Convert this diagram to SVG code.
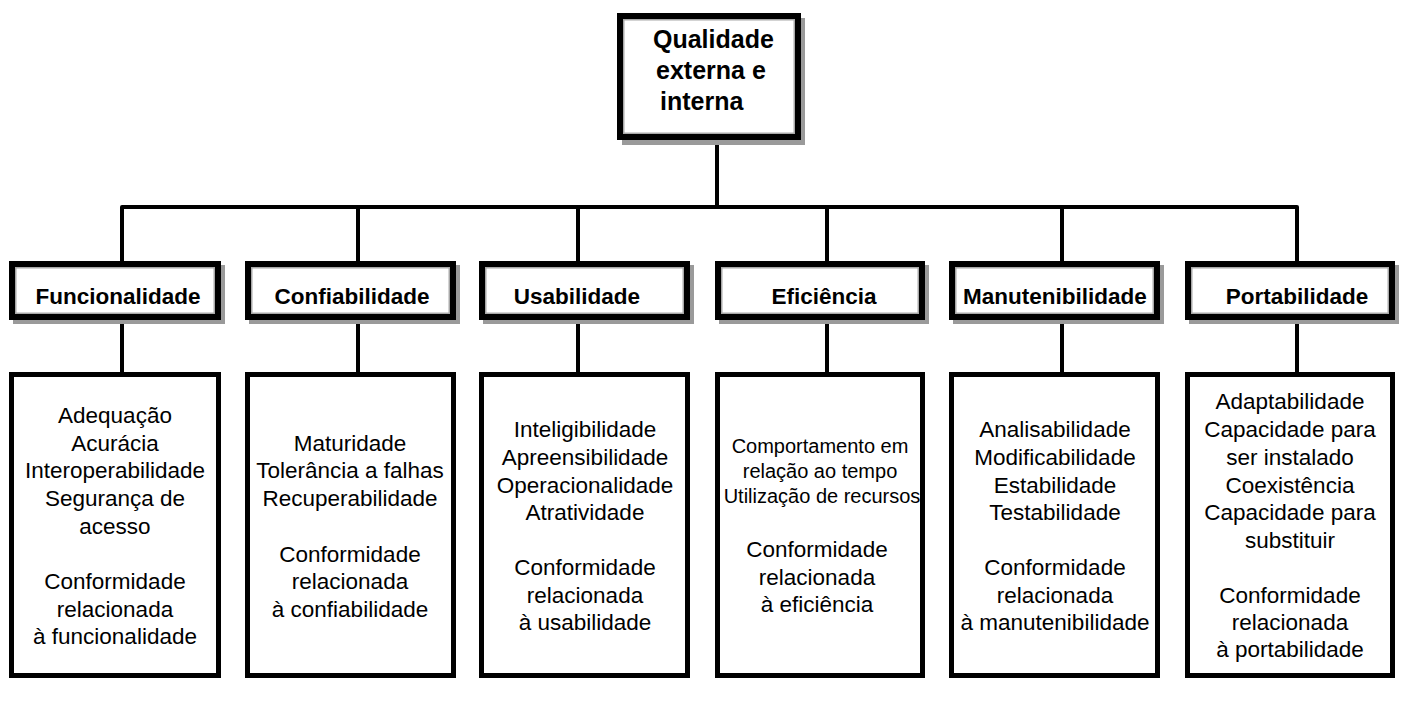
<svg xmlns="http://www.w3.org/2000/svg" width="1424" height="706" viewBox="0 0 1424 706">
<style>
.shadow{fill:#9a9a9a}
.hbox{fill:#fff;stroke:#000;stroke-width:6}
.inner{fill:none;stroke:#a8a8a8;stroke-width:1.5}
.dbox{fill:#fff;stroke:#000;stroke-width:5}
.conn{fill:none;stroke:#000;stroke-width:4;stroke-linejoin:round}
.root{font-family:"Liberation Sans",Arial,sans-serif;font-weight:bold;font-size:25px;fill:#000}
.hl{font-family:"Liberation Sans",Arial,sans-serif;font-weight:bold;font-size:22.5px;fill:#000;text-anchor:middle}
.dt{font-family:"Liberation Sans",Arial,sans-serif;font-size:22.5px;fill:#000;text-anchor:middle}
.ds{font-family:"Liberation Sans",Arial,sans-serif;font-size:20px;fill:#000;text-anchor:middle}
</style>
<rect width="1424" height="706" fill="#fff"/>
<g id="connectors">
<path class="conn" d="M717 138 V207"/>
<path class="conn" d="M122 262 V207 H1297 V262"/>
<path class="conn" d="M358 207 V262"/>
<path class="conn" d="M578 207 V262"/>
<path class="conn" d="M827 207 V262"/>
<path class="conn" d="M1062 207 V262"/>
<path class="conn" d="M122 319 V373"/>
<path class="conn" d="M358 319 V373"/>
<path class="conn" d="M578 319 V373"/>
<path class="conn" d="M827 319 V373"/>
<path class="conn" d="M1062 319 V373"/>
<path class="conn" d="M1297 319 V373"/>
</g>
<g id="root">
<rect class="shadow" x="622" y="18" width="183" height="127"/>
<rect class="hbox" x="620" y="16" width="178" height="121"/>
<rect class="inner" x="623.75" y="19.75" width="170.5" height="113.5"/>
<text class="root" x="653" y="48">Qualidade</text>
<text class="root" x="656" y="79">externa e</text>
<text class="root" x="660" y="110">interna</text>
</g>
<g id="h-funcionalidade">
<rect class="shadow" x="13" y="265" width="212" height="59"/>
<rect class="hbox" x="12" y="264" width="206" height="53"/>
<rect class="inner" x="15.75" y="267.75" width="198.5" height="45.5"/>
<text class="hl" x="118" y="304">Funcionalidade</text>
</g>
<g id="h-confiabilidade">
<rect class="shadow" x="249" y="265" width="211" height="59"/>
<rect class="hbox" x="248" y="264" width="205" height="53"/>
<rect class="inner" x="251.75" y="267.75" width="197.5" height="45.5"/>
<text class="hl" x="352" y="304">Confiabilidade</text>
</g>
<g id="h-usabilidade">
<rect class="shadow" x="483" y="265" width="211" height="59"/>
<rect class="hbox" x="482" y="264" width="205" height="53"/>
<rect class="inner" x="485.75" y="267.75" width="197.5" height="45.5"/>
<text class="hl" x="577" y="304">Usabilidade</text>
</g>
<g id="h-eficiencia">
<rect class="shadow" x="719" y="265" width="210" height="59"/>
<rect class="hbox" x="718" y="264" width="204" height="53"/>
<rect class="inner" x="721.75" y="267.75" width="196.5" height="45.5"/>
<text class="hl" x="824" y="304">Eficiência</text>
</g>
<g id="h-manutenibilidade">
<rect class="shadow" x="953" y="265" width="211" height="59"/>
<rect class="hbox" x="952" y="264" width="205" height="53"/>
<rect class="inner" x="955.75" y="267.75" width="197.5" height="45.5"/>
<text class="hl" x="1055" y="304">Manutenibilidade</text>
</g>
<g id="h-portabilidade">
<rect class="shadow" x="1189" y="265" width="210" height="59"/>
<rect class="hbox" x="1188" y="264" width="204" height="53"/>
<rect class="inner" x="1191.75" y="267.75" width="196.5" height="45.5"/>
<text class="hl" x="1297" y="304">Portabilidade</text>
</g>
<g id="d-funcionalidade">
<rect class="dbox" x="11.5" y="374.5" width="207" height="301"/>
<text class="dt" x="115" y="423">Adequação</text>
<text class="dt" x="115" y="451">Acurácia</text>
<text class="dt" x="115" y="478">Interoperabilidade</text>
<text class="dt" x="115" y="506">Segurança de</text>
<text class="dt" x="115" y="534">acesso</text>
<text class="dt" x="115" y="589">Conformidade</text>
<text class="dt" x="115" y="617">relacionada</text>
<text class="dt" x="115" y="644">à funcionalidade</text>
</g>
<g id="d-confiabilidade">
<rect class="dbox" x="247.5" y="374.5" width="206" height="301"/>
<text class="dt" x="350" y="451">Maturidade</text>
<text class="dt" x="350" y="478">Tolerância a falhas</text>
<text class="dt" x="350" y="506">Recuperabilidade</text>
<text class="dt" x="350" y="562">Conformidade</text>
<text class="dt" x="350" y="589">relacionada</text>
<text class="dt" x="350" y="617">à confiabilidade</text>
</g>
<g id="d-usabilidade">
<rect class="dbox" x="481.5" y="374.5" width="206" height="301"/>
<text class="dt" x="585" y="437">Inteligibilidade</text>
<text class="dt" x="585" y="465">Apreensibilidade</text>
<text class="dt" x="585" y="493">Operacionalidade</text>
<text class="dt" x="585" y="520">Atratividade</text>
<text class="dt" x="585" y="575">Conformidade</text>
<text class="dt" x="585" y="603">relacionada</text>
<text class="dt" x="585" y="630">à usabilidade</text>
</g>
<g id="d-eficiencia">
<rect class="dbox" x="717.5" y="374.5" width="205" height="301"/>
<text class="ds" x="820" y="453">Comportamento em</text>
<text class="ds" x="820" y="478">relação ao tempo</text>
<text class="ds" x="822" y="503">Utilização de recursos</text>
<text class="dt" x="817" y="557">Conformidade</text>
<text class="dt" x="817" y="585">relacionada</text>
<text class="dt" x="817" y="612">à eficiência</text>
</g>
<g id="d-manutenibilidade">
<rect class="dbox" x="951.5" y="374.5" width="206" height="301"/>
<text class="dt" x="1055" y="437">Analisabilidade</text>
<text class="dt" x="1055" y="465">Modificabilidade</text>
<text class="dt" x="1055" y="493">Estabilidade</text>
<text class="dt" x="1055" y="520">Testabilidade</text>
<text class="dt" x="1055" y="575">Conformidade</text>
<text class="dt" x="1055" y="603">relacionada</text>
<text class="dt" x="1055" y="630">à manutenibilidade</text>
</g>
<g id="d-portabilidade">
<rect class="dbox" x="1187.5" y="374.5" width="205" height="301"/>
<text class="dt" x="1290" y="409">Adaptabilidade</text>
<text class="dt" x="1290" y="437">Capacidade para</text>
<text class="dt" x="1290" y="465">ser instalado</text>
<text class="dt" x="1290" y="493">Coexistência</text>
<text class="dt" x="1290" y="520">Capacidade para</text>
<text class="dt" x="1290" y="548">substituir</text>
<text class="dt" x="1290" y="603">Conformidade</text>
<text class="dt" x="1290" y="630">relacionada</text>
<text class="dt" x="1290" y="657">à portabilidade</text>
</g>
</svg>
